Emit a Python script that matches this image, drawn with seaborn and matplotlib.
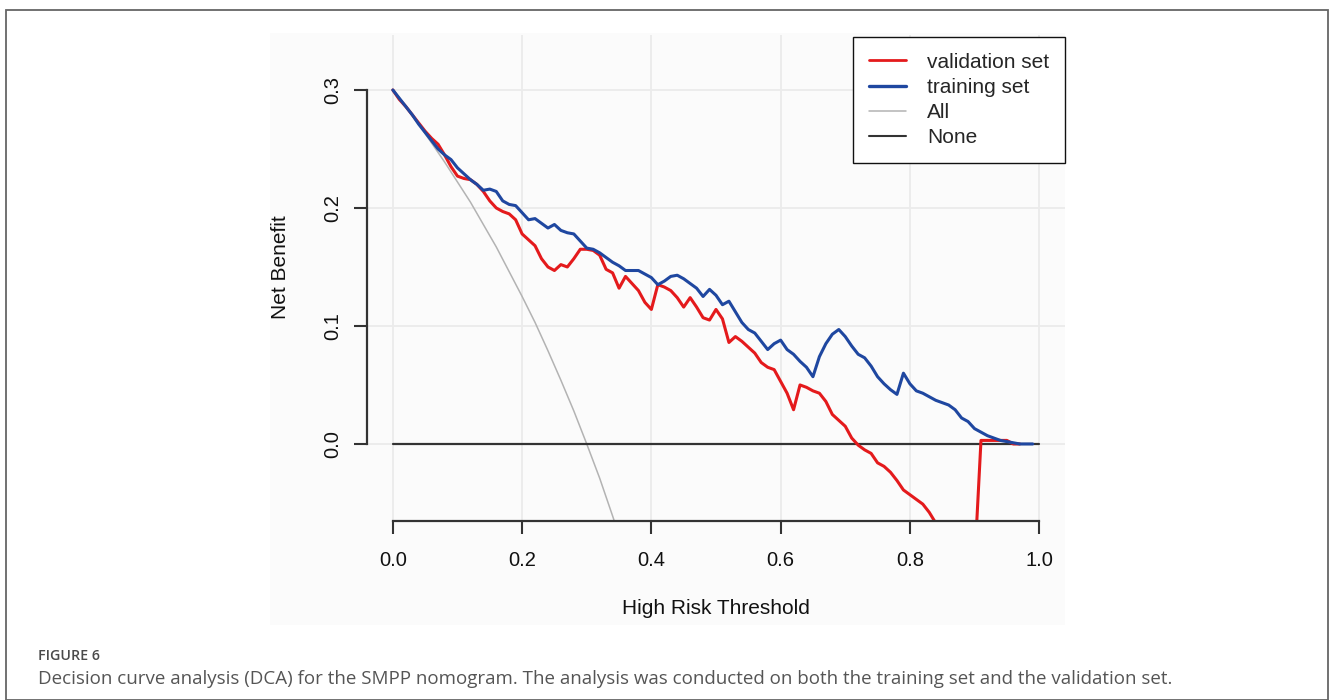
import numpy as np
import pandas as pd
import matplotlib
matplotlib.use("Agg")
import matplotlib.pyplot as plt
from matplotlib.lines import Line2D
from matplotlib.patches import Rectangle
import seaborn as sns

# ---------------- data ----------------
thr_train = [round(0.01 * i, 2) for i in range(100)]  # 0.00 .. 0.99
nb_train = [0.300, 0.293, 0.286, 0.279, 0.271, 0.264, 0.257, 0.250, 0.245, 0.241,
            0.234, 0.229, 0.224, 0.220, 0.215, 0.216, 0.214, 0.206, 0.203, 0.202,
            0.196, 0.190, 0.191, 0.187, 0.183, 0.186, 0.181, 0.179, 0.178, 0.172,
            0.166, 0.165, 0.162, 0.158, 0.154, 0.151, 0.147, 0.147, 0.147, 0.144,
            0.141, 0.135, 0.138, 0.142, 0.143, 0.140, 0.136, 0.132, 0.125, 0.131,
            0.126, 0.118, 0.121, 0.112, 0.103, 0.097, 0.094, 0.087, 0.080, 0.085,
            0.088, 0.080, 0.076, 0.070, 0.065, 0.057, 0.074, 0.085, 0.093, 0.097,
            0.091, 0.083, 0.076, 0.073, 0.066, 0.057, 0.051, 0.046, 0.042, 0.060,
            0.051, 0.045, 0.043, 0.040, 0.037, 0.035, 0.033, 0.029, 0.022, 0.019,
            0.013, 0.010, 0.007, 0.005, 0.003, 0.002, 0.001, 0.000, 0.000, 0.000]

thr_valid = [round(0.01 * i, 2) for i in range(98)]  # 0.00 .. 0.97
nb_valid = [0.300, 0.292, 0.286, 0.279, 0.272, 0.265, 0.259, 0.254, 0.245, 0.235,
            0.227, 0.225, 0.224, 0.220, 0.214, 0.206, 0.200, 0.197, 0.195, 0.190,
            0.178, 0.173, 0.168, 0.157, 0.150, 0.147, 0.152, 0.150, 0.157, 0.165,
            0.165, 0.164, 0.160, 0.148, 0.145, 0.132, 0.142, 0.136, 0.130, 0.120,
            0.114, 0.135, 0.133, 0.130, 0.124, 0.116, 0.124, 0.116, 0.107, 0.105,
            0.114, 0.106, 0.086, 0.091, 0.087, 0.082, 0.077, 0.069, 0.065, 0.063,
            0.053, 0.043, 0.029, 0.050, 0.048, 0.045, 0.043, 0.036, 0.025, 0.020,
            0.015, 0.005, -0.001, -0.005, -0.008, -0.016, -0.019, -0.024, -0.031, -0.039,
            -0.043, -0.047, -0.051, -0.058, -0.067, -0.073, -0.079, -0.085, -0.091, -0.097,
            -0.103, 0.003, 0.003, 0.003, 0.003, 0.003, 0.000, 0.000]

thr_all = [0.00, 0.02, 0.04, 0.06, 0.08, 0.10, 0.12, 0.14, 0.16, 0.18,
           0.20, 0.22, 0.24, 0.26, 0.28, 0.30, 0.32, 0.34, 0.36]
nb_all = [0.300, 0.286, 0.271, 0.255, 0.239, 0.222, 0.205, 0.186, 0.167, 0.146,
          0.125, 0.103, 0.079, 0.054, 0.028, 0.000, -0.029, -0.061, -0.094]

thr_none = [0.0, 1.0]
nb_none = [0.0, 0.0]

x_ticks = [0.0, 0.2, 0.4, 0.6, 0.8, 1.0]
x_tick_labels = ["0.0", "0.2", "0.4", "0.6", "0.8", "1.0"]
y_ticks = [0.0, 0.1, 0.2, 0.3]
y_tick_labels = ["0.0", "0.1", "0.2", "0.3"]

legend_labels = ["validation set", "training set", "All", "None"]
caption_title = "FIGURE 6"
caption_text = ("Decision curve analysis (DCA) for the SMPP nomogram. The analysis was "
                "conducted on both the training set and the validation set.")

# ---------------- styling ----------------
sns.set_theme(style="white")
plt.rcParams["font.family"] = ["Liberation Sans", "DejaVu Sans"]

RED = "#e41a1c"
BLUE = "#1f47a0"
GRAY = "#b3b3b3"
BLACK = "#333333"

W, H = 1330, 700
fig = plt.figure(figsize=(W / 100, H / 100), dpi=100)
fig.patch.set_facecolor("white")

# outer frame and plot panel background
fig.add_artist(Rectangle((6 / W, 0), 1322 / W, 1 - 10 / H, transform=fig.transFigure,
                         fill=False, edgecolor="#666666", lw=1.3, zorder=0))
fig.add_artist(Rectangle((270 / W, 1 - 625 / H), 795 / W, 592 / H, transform=fig.transFigure,
                         facecolor="#fbfbfb", edgecolor="none", zorder=0))

ax = fig.add_axes([367 / W, 1 - 521 / H, 698 / W, 486 / H])
ax.set_facecolor("none")

df_valid = pd.DataFrame({"thr": thr_valid, "nb": nb_valid})
df_train = pd.DataFrame({"thr": thr_train, "nb": nb_train})
df_all = pd.DataFrame({"thr": thr_all, "nb": nb_all})
df_none = pd.DataFrame({"thr": thr_none, "nb": nb_none})

sns.lineplot(data=df_all, x="thr", y="nb", color=GRAY, lw=1.1, ax=ax,
             estimator=None, sort=False, legend=False)
sns.lineplot(data=df_none, x="thr", y="nb", color=BLACK, lw=1.6, ax=ax,
             estimator=None, sort=False, legend=False)
sns.lineplot(data=df_valid, x="thr", y="nb", color=RED, lw=2.2, ax=ax,
             estimator=None, sort=False, legend=False)
sns.lineplot(data=df_train, x="thr", y="nb", color=BLUE, lw=2.2, ax=ax,
             estimator=None, sort=False, legend=False)

ax.set_xlim(-0.04, 1.04)
ax.set_ylim(-0.0653, 0.3466)

ax.set_xticks(x_ticks)
ax.set_xticklabels(x_tick_labels)
ax.set_yticks(y_ticks)
ax.set_yticklabels(y_tick_labels, rotation=90, va="center")

ax.grid(True, color="#ebebeb", lw=1.3)
ax.set_axisbelow(True)

for s in ["top", "right"]:
    ax.spines[s].set_visible(False)
for s in ["left", "bottom"]:
    ax.spines[s].set_color(BLACK)
    ax.spines[s].set_linewidth(1.6)
ax.spines["left"].set_bounds(0.0, 0.3)
ax.spines["bottom"].set_bounds(0.0, 1.0)

ax.tick_params(axis="both", direction="out", length=9.5, width=1.5, color=BLACK,
               labelsize=14.5, labelcolor="#111111")
ax.tick_params(axis="x", pad=12)
ax.tick_params(axis="y", pad=8)
ax.tick_params(axis="both", left=True, bottom=True)

ax.set_xlabel("High Risk Threshold", fontsize=15, color="#111111")
ax.xaxis.set_label_coords(0.5, (521 - 609) / 486)
ax.xaxis.label.set_va("center")
ax.set_ylabel("Net Benefit", fontsize=15, color="#111111")
ax.yaxis.set_label_coords((280 - 367) / 698, (521 - 267) / 486)
ax.yaxis.label.set_va("center")

handles = [Line2D([], [], color=RED, lw=2.0),
           Line2D([], [], color=BLUE, lw=2.4),
           Line2D([], [], color=GRAY, lw=1.1),
           Line2D([], [], color=BLACK, lw=1.5)]
leg = ax.legend(handles, legend_labels, loc="upper right", bbox_to_anchor=(1.0, 0.996),
                fontsize=15, frameon=True, fancybox=False, handlelength=1.8,
                handletextpad=1.0, labelspacing=0.3, borderpad=0.75, borderaxespad=0.0)
leg.get_frame().set_edgecolor("#111111")
leg.get_frame().set_linewidth(1.0)
leg.get_frame().set_facecolor("white")
leg.get_frame().set_alpha(1.0)

fig.text(38 / W, 1 - 656 / H, caption_title, fontsize=10.3, color="#4a4a4a",
         family=["Open Sans", "DejaVu Sans"], weight="semibold", va="center", ha="left")
fig.text(38 / W, 1 - 679 / H, caption_text, fontsize=13.5, color="#555555",
         family=["Open Sans", "DejaVu Sans"], va="center", ha="left")

fig.savefig("out.png", dpi=100)
